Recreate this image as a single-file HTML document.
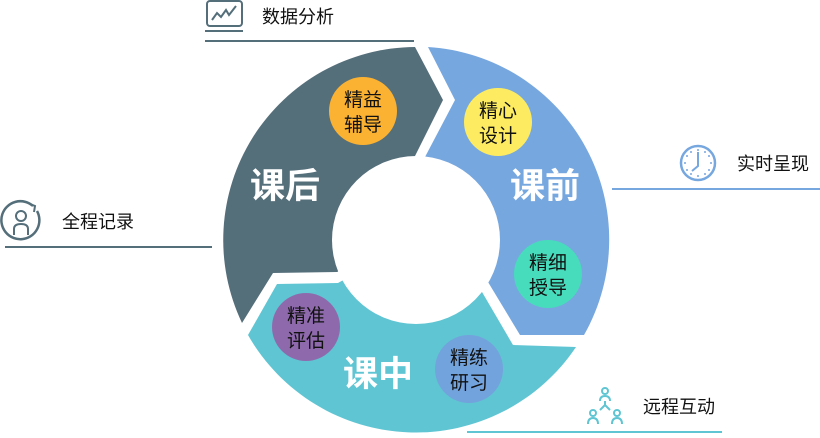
<!DOCTYPE html>
<html><head><meta charset="utf-8"><style>
html,body{margin:0;padding:0;background:#fff;}
body{width:820px;height:433px;overflow:hidden;}
svg text{font-family:"Liberation Sans","Noto Sans CJK SC",sans-serif;}
</style></head><body>
<svg width="820" height="433" viewBox="0 0 820 433" xmlns="http://www.w3.org/2000/svg">
<path d="M337,272 L273,273 L242,323 A193,193 0 0 1 415,47 L443,100 L413,160 L415,240 Z" fill="#546e7a"/>
<path d="M428,47 A193,193 0 0 1 584,335 L520,335 L488,282 L415,240 L425,157 L455,100 Z" fill="#77a7df"/>
<path d="M576,347 A193,193 0 0 1 248,335 L277,284 L338,283 L415,240 L482,292 L513,345 Z" fill="#5fc5d3"/>
<circle cx="416" cy="240" r="84" fill="#fff"/>

<g fill="#fff" font-size="35" font-weight="bold" text-anchor="middle">
<text x="285" y="198">课后</text>
<text x="545" y="198">课前</text>
<text x="378" y="386">课中</text>
</g>

<g font-size="19" text-anchor="middle" fill="#111">
<circle cx="363" cy="111" r="34" fill="#fbb232"/>
<text x="363" y="106">精益</text><text x="363" y="131">辅导</text>
<circle cx="498" cy="122" r="34" fill="#fdec61"/>
<text x="498" y="117">精心</text><text x="498" y="142">设计</text>
<circle cx="548" cy="274" r="34" fill="#47dcbc"/>
<text x="548" y="269">精细</text><text x="548" y="294">授导</text>
<circle cx="306" cy="327" r="34" fill="#8e6aad"/>
<text x="306" y="322">精准</text><text x="306" y="347">评估</text>
<circle cx="469" cy="369" r="34" fill="#73a3dc"/>
<text x="469" y="364">精练</text><text x="469" y="389">研习</text>
</g>

<g font-size="18" fill="#111">
<text x="262" y="23">数据分析</text>
<text x="737" y="170">实时呈现</text>
<text x="62" y="228">全程记录</text>
<text x="643" y="413">远程互动</text>
</g>
<line x1="205" y1="41" x2="414" y2="41" stroke="#546e7a" stroke-width="2"/>
<line x1="205" y1="31" x2="243" y2="31" stroke="#546e7a" stroke-width="2"/>
<line x1="612" y1="189" x2="820" y2="189" stroke="#77a7df" stroke-width="2"/>
<line x1="5" y1="247" x2="212" y2="247" stroke="#546e7a" stroke-width="2"/>
<line x1="467" y1="432" x2="722" y2="432" stroke="#5fc5d3" stroke-width="2"/>

<rect x="207" y="1" width="35" height="25" rx="3" fill="none" stroke="#546e7a" stroke-width="2"/>
<polyline points="212,20 217,13 221,17 226,10 229,15 236,6" fill="none" stroke="#546e7a" stroke-width="2"/>
<circle cx="698" cy="163" r="17" fill="none" stroke="#77a7df" stroke-width="2.5"/>
<polyline points="698,152 698,166 692,171" fill="none" stroke="#77a7df" stroke-width="2"/>
<g fill="#77a7df"><circle cx="698" cy="150" r="1"/><circle cx="698" cy="176" r="1"/><circle cx="685" cy="163" r="1"/><circle cx="711" cy="163" r="1"/><circle cx="691" cy="152" r="1"/><circle cx="705" cy="152" r="1"/><circle cx="691" cy="174" r="1"/><circle cx="705" cy="174" r="1"/><circle cx="687" cy="156" r="1"/><circle cx="709" cy="156" r="1"/><circle cx="687" cy="170" r="1"/><circle cx="709" cy="170" r="1"/></g>
<path d="M37,211 A19,19 0 1 1 33,206" fill="none" stroke="#546e7a" stroke-width="2.5"/>
<polyline points="30,204 35,206 34,212" fill="none" stroke="#546e7a" stroke-width="2"/>
<circle cx="21" cy="216" r="5" fill="none" stroke="#546e7a" stroke-width="2"/>
<path d="M14,235 L14,229 Q14,224 21,224 Q28,224 28,229 L28,235" fill="none" stroke="#546e7a" stroke-width="2"/>
<g fill="none" stroke="#5fc5d3" stroke-width="2">
<circle cx="605" cy="391" r="3"/>
<path d="M600,401 Q600,396 605,396 Q610,396 610,401"/>
<line x1="605" y1="401" x2="605" y2="405"/>
<line x1="600" y1="410" x2="605" y2="405"/><line x1="610" y1="410" x2="605" y2="405"/>
<circle cx="593" cy="413" r="3"/><circle cx="617" cy="413" r="3"/>
<path d="M588,424 Q588,418 593,418 Q598,418 598,424"/>
<path d="M612,424 Q612,418 617,418 Q622,418 622,424"/>
</g>
</svg>
</body></html>
